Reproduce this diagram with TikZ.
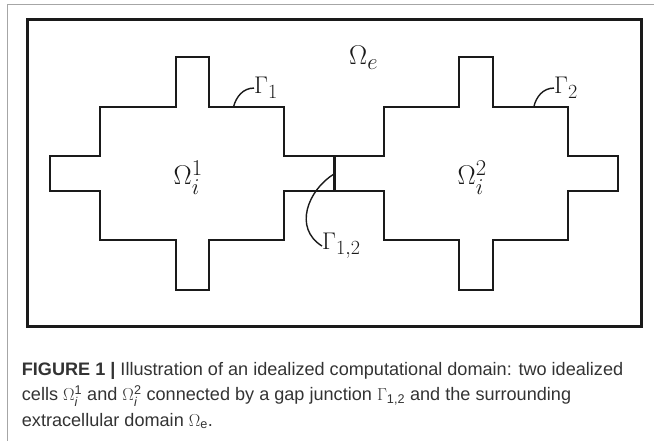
\documentclass[tikz,border=0pt]{standalone}
\usepackage{amsmath}
\usepackage{graphicx}
\usepackage{fontspec}
\newfontfamily\capfont{Liberation Sans}
\definecolor{ink}{HTML}{1A1A1A}
\definecolor{captxt}{HTML}{333333}
\tikzset{
  cell/.style={draw=ink, line width=2pt, line join=miter},
  frame/.style={draw=ink, line width=3pt},
  gapline/.style={draw=ink, line width=3pt},
  leader/.style={draw=ink, line width=1.4pt},
  lbl/.style={inner sep=0pt, anchor=base west, text=ink},
  captext/.style={inner sep=0pt, anchor=base west, text=captxt, font=\capfont\fontsize{18.1}{25}\selectfont},
}
\newcommand{\omlab}[1]{\scalebox{1.09}{\Huge$#1$}}
\newcommand{\gmlab}[1]{\scalebox{0.97}{\Huge$#1$}}
\newcommand{\cs}[1]{\text{\capfont #1}}
\begin{document}
\begin{tikzpicture}[x=1pt, y=-1pt]
\useasboundingbox (0,0) rectangle (654,441);
% page border
\draw[gray!70, line width=1.2pt] (7.5,441) -- (7.5,4.7) -- (654,4.7);
% outer frame
\draw[frame] (27.7,20) rectangle (641,326);
% two cells outline
\draw[cell] (50,156) -- (100,156) -- (100,106.7) -- (175.7,106.7) -- (175.7,56.7) -- (209.3,56.7)
  -- (209.3,106.7) -- (284,106.7) -- (284,156) -- (384,156) -- (384,106.7) -- (459.3,106.7)
  -- (459.3,56.7) -- (492.7,56.7) -- (492.7,106.7) -- (567.7,106.7) -- (567.7,156) -- (617.7,156)
  -- (617.7,190.7) -- (567.7,190.7) -- (567.7,240) -- (492.7,240) -- (492.7,290) -- (459.3,290)
  -- (459.3,240) -- (384,240) -- (384,190.7) -- (284,190.7) -- (284,240) -- (209.3,240)
  -- (209.3,290) -- (175.7,290) -- (175.7,240) -- (100,240) -- (100,190.7) -- (50,190.7) -- cycle;
% gap junction
\coordinate (gjt) at (334,156);
\coordinate (gjb) at (334,190.7);
\draw[gapline] (gjt) -- (gjb);
% labels
\node[lbl] (oe) at (349,65) {\omlab{\Omega_e}};
\node[lbl] (o1) at (173.5,185) {\omlab{\Omega_i^1}};
\node[lbl] (o2) at (457.5,185) {\omlab{\Omega_i^2}};
\node[lbl] (g1) at (254,94) {\gmlab{\Gamma_1}};
\node[lbl] (g2) at (554,94) {\gmlab{\Gamma_2}};
\node[lbl] (g12) at (322,250) {\gmlab{\Gamma_{1,2}}};
% leaders
\coordinate (b1) at (233.5,107);
\coordinate (b2) at (533.8,107);
\coordinate (b12) at (334,174);
\draw[leader] (b1) .. controls (236,97) and (243,88) .. (g1.west);
\draw[leader] (b2) .. controls (536,97) and (543,88) .. (g2.west);
\draw[leader] (b12) .. controls (308,190) and (293,228) .. (g12.west);
% caption
\node[captext] (c1) at (21.7,375) {\textbf{FIGURE 1 |} Illustration of an idealized computational domain: two idealized};
\node[captext] (c2) at (21.7,400.5) {cells $\Omega^{\cs{1}}_{\cs{\itshape i}}$ and $\Omega^{\cs{2}}_{\cs{\itshape i}}$ connected by a gap junction $\Gamma_{\cs{1,2}}$ and the surrounding};
\node[captext] (c3) at (21.7,426) {extracellular domain $\Omega_{\cs{e}}$.};
\end{tikzpicture}
\end{document}
